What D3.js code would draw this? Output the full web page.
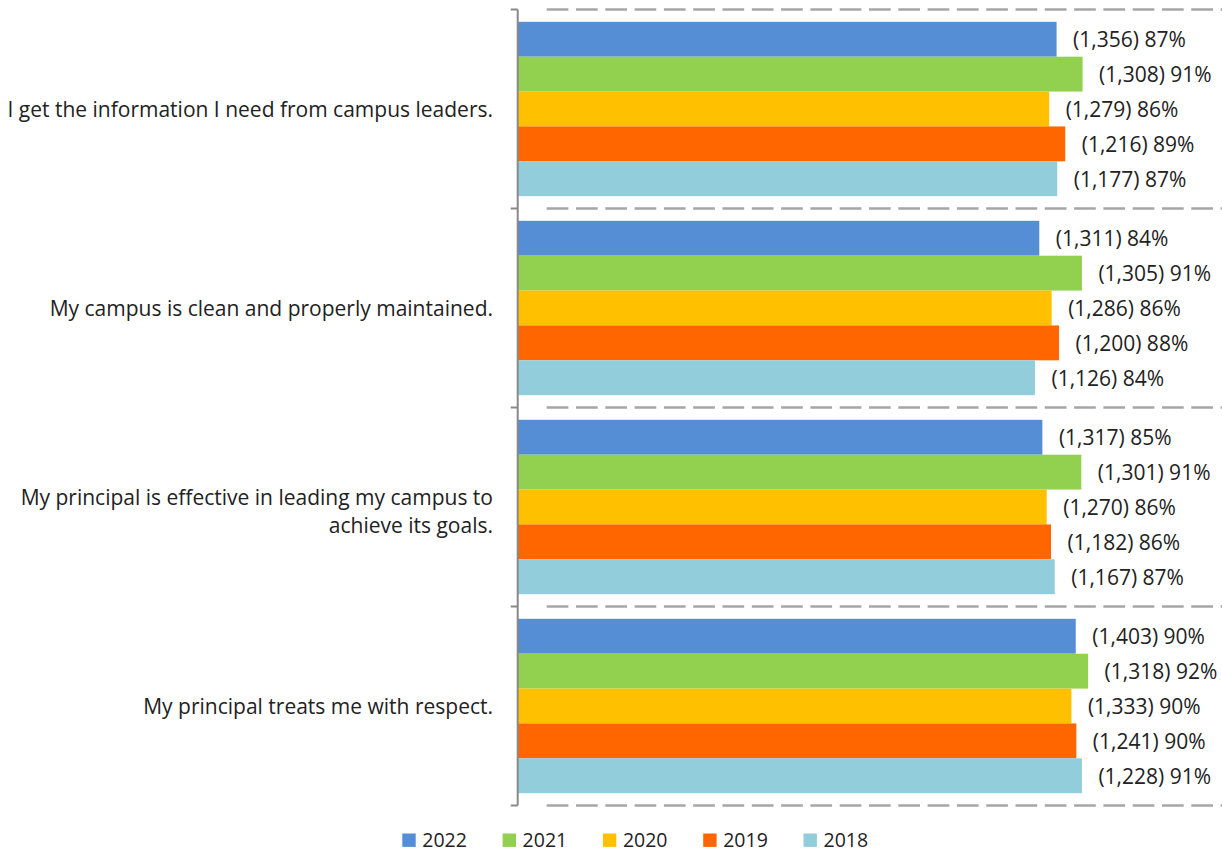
<!DOCTYPE html>
<html>
<head>
<meta charset="utf-8">
<script src="https://cdn.jsdelivr.net/npm/d3@7"></script>
<style>
  html, body { margin: 0; padding: 0; background: #fff; }
  svg { display: block; }
  text { font-family: "Open Sans", "Noto Sans", sans-serif; fill: #222; }
</style>
</head>
<body>
<svg id="chart" width="1222" height="852"></svg>
<script>
// Survey statements (one group of bars each)
const categories = [
  ["I get the information I need from campus leaders."],
  ["My campus is clean and properly maintained."],
  ["My principal is effective in leading my campus to", "achieve its goals."],
  ["My principal treats me with respect."]
];

// Survey years, drawn top to bottom inside every group
const years = ["2022", "2021", "2020", "2019", "2018"];
const yearColors = ["#558ed5", "#92d050", "#ffc000", "#ff6600", "#92cddc"];

// Share of agreeing respondents, one array per year (order follows categories)
const pct2022 = [0.872, 0.844, 0.849, 0.903];
const pct2021 = [0.914, 0.913, 0.912, 0.923];
const pct2020 = [0.860, 0.864, 0.856, 0.896];
const pct2019 = [0.886, 0.876, 0.863, 0.904];
const pct2018 = [0.873, 0.837, 0.869, 0.913];

// Number of respondents, one array per year
const n2022 = [1356, 1311, 1317, 1403];
const n2021 = [1308, 1305, 1301, 1318];
const n2020 = [1279, 1286, 1270, 1333];
const n2019 = [1216, 1200, 1182, 1241];
const n2018 = [1177, 1126, 1167, 1228];

const pctSeries = [pct2022, pct2021, pct2020, pct2019, pct2018];
const nSeries = [n2022, n2021, n2020, n2019, n2018];

const rows = [];
categories.forEach((c, ci) => {
  years.forEach((y, yi) => {
    rows.push({ cat: ci, year: y, yi, pct: pctSeries[yi][ci], n: nSeries[yi][ci] });
  });
});

const svg = d3.select("#chart");

const plotLeft = 517.7, plotRight = 1135.7, plotTop = 9.5, plotBottom = 805.5;

const x = d3.scaleLinear().domain([0, 1]).range([plotLeft, plotRight]);
const yCat = d3.scaleBand().domain(d3.range(categories.length)).range([plotTop, plotBottom]).padding(0);
const yYear = d3.scaleBand().domain(years).range([0, yCat.bandwidth()]).paddingInner(0).paddingOuter(0.353);

// Dashed gridlines at category boundaries
const bounds = d3.range(categories.length + 1).map(i => plotTop + i * yCat.step());
svg.append("g").selectAll("line").data(bounds).join("line")
  .attr("x1", plotLeft + 29).attr("x2", 1222)
  .attr("y1", d => d).attr("y2", d => d)
  .attr("stroke", "#a6a6a6").attr("stroke-width", 2.6)
  .attr("stroke-dasharray", "21.7 7.6");

// Bars
svg.append("g").selectAll("rect").data(rows).join("rect")
  .attr("x", x(0))
  .attr("y", d => yCat(d.cat) + yYear(d.year))
  .attr("width", d => x(d.pct) - x(0))
  .attr("height", yYear.bandwidth())
  .attr("fill", d => yearColors[d.yi]);

// Value labels
const fmtN = d3.format(",");
svg.append("g").selectAll("text").data(rows).join("text")
  .attr("x", d => x(d.pct) + 16.5)
  .attr("y", d => yCat(d.cat) + yYear(d.year) + yYear.bandwidth() / 2)
  .attr("dy", "0.38em")
  .attr("font-size", 21)
  .text(d => `(${fmtN(d.n)}) ${Math.round(d.pct * 100)}%`);

// Category axis: line, ticks at boundaries, wrapped labels
const axis = svg.append("g");
axis.append("line")
  .attr("x1", plotLeft).attr("x2", plotLeft)
  .attr("y1", plotTop).attr("y2", plotBottom)
  .attr("stroke", "#898989").attr("stroke-width", 2);
axis.selectAll("line.tick").data(bounds).join("line")
  .attr("class", "tick")
  .attr("x1", plotLeft - 7).attr("x2", plotLeft)
  .attr("y1", d => d).attr("y2", d => d)
  .attr("stroke", "#898989").attr("stroke-width", 2);

const lineH = 28;
axis.selectAll("text").data(categories).join("text")
  .attr("text-anchor", "end")
  .attr("font-size", 21)
  .attr("transform", (d, i) => {
    const shift = d.length > 1 ? 4 : 0;
    return `translate(493, ${yCat(i) + yCat.bandwidth() / 2 - (d.length - 1) * lineH / 2 + shift})`;
  })
  .each(function (lines) {
    d3.select(this).selectAll("tspan").data(lines).join("tspan")
      .attr("x", 0)
      .attr("y", (l, j) => j * lineH)
      .attr("dy", "0.36em")
      .text(l => l);
  });

// Legend
const legend = svg.append("g").attr("transform", "translate(402.3, 833.5)");
const item = legend.selectAll("g").data(years).join("g")
  .attr("transform", (d, i) => `translate(${i * 100.3}, 0)`);
item.append("rect").attr("width", 13.4).attr("height", 13.4)
  .attr("fill", (d, i) => yearColors[i]);
item.append("text").attr("x", 20).attr("y", 13.3)
  .attr("font-size", 19.5).text(d => d);
</script>
</body>
</html>
